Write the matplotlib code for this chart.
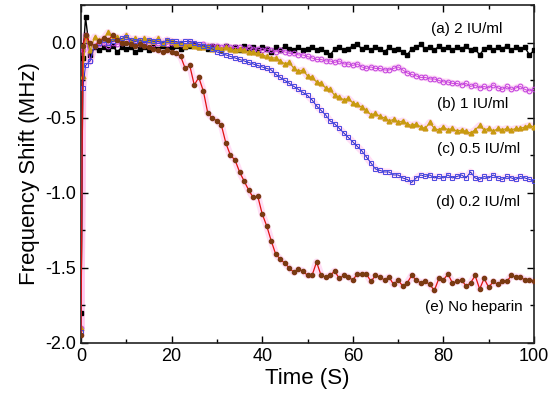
import matplotlib
matplotlib.use("Agg")
import matplotlib.pyplot as plt
from matplotlib.ticker import MultipleLocator

plt.rcParams['font.family'] = ['Liberation Sans', 'DejaVu Sans']

# time axis (s): initial point, one early sample, then 1 s steps
time_s = [0, 0.4] + list(range(1, 101))

# (a) 2 IU/ml
shift_a = [-1.8, -0.10,
    0.17, -0.08, -0.03, -0.05, -0.03, -0.04, -0.02, -0.06, -0.03, -0.04,
    -0.03, -0.06, -0.04, -0.03, -0.05, -0.03, -0.04, -0.02, -0.04, -0.03,
    -0.02, -0.04, -0.03, -0.02, -0.01, -0.03, -0.02, -0.04, -0.02, -0.03,
    -0.05, -0.02, -0.04, -0.03, -0.05, -0.02, -0.04, -0.03, -0.05, -0.03,
    -0.04, -0.06, -0.03, -0.05, -0.02, -0.04, -0.05, -0.03, -0.05, -0.04,
    -0.03, -0.05, -0.04, -0.06, -0.08, -0.04, -0.03, -0.05, -0.04, -0.02,
    -0.01, -0.04, -0.03, -0.05, -0.03, -0.04, -0.06, -0.03, -0.05, -0.04,
    -0.06, -0.08, -0.04, -0.03, -0.01, -0.04, -0.03, -0.05, -0.02, -0.04,
    -0.03, -0.05, -0.03, -0.04, -0.02, -0.05, -0.04, -0.08, -0.04, -0.03,
    -0.05, -0.03, -0.04, -0.02, -0.05, -0.03, -0.04, -0.03, -0.08, -0.05]

# (b) 1 IU/ml
shift_b = [-1.9, -0.05,
    0.05, -0.12, -0.02, -0.01, 0.00, -0.02, 0.00, -0.01, 0.00, 0.01,
    0.00, 0.00, -0.01, 0.00, 0.00, -0.01, 0.00, 0.00, -0.01, 0.00,
    -0.01, -0.01, -0.02, 0.00, -0.01, -0.02, -0.01, -0.02, -0.02, -0.02,
    -0.03, -0.02, -0.03, -0.03, -0.03, -0.04, -0.03, -0.04, -0.04, -0.05,
    -0.04, -0.05, -0.06, -0.05, -0.06, -0.07, -0.07, -0.08, -0.08, -0.09,
    -0.10, -0.11, -0.11, -0.12, -0.12, -0.13, -0.12, -0.14, -0.14, -0.15,
    -0.14, -0.16, -0.17, -0.16, -0.17, -0.17, -0.18, -0.18, -0.17, -0.16,
    -0.18, -0.20, -0.21, -0.22, -0.23, -0.23, -0.24, -0.24, -0.25, -0.26,
    -0.26, -0.27, -0.27, -0.28, -0.27, -0.29, -0.28, -0.30, -0.29, -0.30,
    -0.28, -0.30, -0.31, -0.29, -0.31, -0.30, -0.29, -0.31, -0.32, -0.31]

# (c) 0.5 IU/ml
shift_c = [-1.9, -0.22,
    0.05, -0.05, 0.04, 0.02, 0.03, 0.07, 0.03, 0.04, 0.02, 0.05,
    0.02, 0.03, 0.01, 0.03, 0.02, 0.01, 0.03, 0.00, 0.02, 0.01,
    -0.01, 0.00, -0.02, -0.01, -0.02, -0.03, -0.03, -0.02, -0.04, -0.03,
    -0.04, -0.03, -0.04, -0.05, -0.04, -0.05, -0.06, -0.06, -0.07, -0.08,
    -0.09, -0.10, -0.10, -0.12, -0.14, -0.13, -0.17, -0.19, -0.18, -0.22,
    -0.23, -0.26, -0.27, -0.30, -0.31, -0.35, -0.36, -0.38, -0.37, -0.40,
    -0.41, -0.43, -0.45, -0.48, -0.47, -0.49, -0.50, -0.52, -0.51, -0.53,
    -0.52, -0.54, -0.55, -0.54, -0.56, -0.57, -0.53, -0.57, -0.58, -0.56,
    -0.58, -0.57, -0.59, -0.58, -0.59, -0.60, -0.58, -0.55, -0.58, -0.57,
    -0.59, -0.57, -0.58, -0.57, -0.58, -0.57, -0.57, -0.56, -0.55, -0.56]

# (d) 0.2 IU/ml
shift_d = [-1.93, -0.30,
    -0.15, -0.12, -0.02, 0.00, 0.02, 0.00, 0.01, 0.02, 0.03, 0.04,
    0.02, 0.01, 0.02, 0.00, 0.02, 0.01, 0.01, 0.00, 0.02, 0.01,
    0.01, 0.00, 0.01, 0.01, 0.00, -0.01, -0.02, -0.03, -0.04, -0.06,
    -0.07, -0.08, -0.09, -0.10, -0.11, -0.12, -0.13, -0.14, -0.15, -0.16,
    -0.17, -0.18, -0.21, -0.23, -0.25, -0.27, -0.29, -0.31, -0.33, -0.35,
    -0.38, -0.42, -0.45, -0.48, -0.52, -0.54, -0.57, -0.60, -0.63, -0.66,
    -0.69, -0.72, -0.76, -0.80, -0.84, -0.85, -0.86, -0.86, -0.88, -0.88,
    -0.90, -0.91, -0.93, -0.90, -0.88, -0.89, -0.88, -0.90, -0.89, -0.90,
    -0.88, -0.90, -0.89, -0.88, -0.90, -0.86, -0.90, -0.91, -0.89, -0.90,
    -0.88, -0.90, -0.91, -0.89, -0.90, -0.91, -0.89, -0.90, -0.91, -0.92]

# (e) No heparin
shift_e = [-1.95, -0.02,
    0.05, 0.00, -0.02, 0.01, 0.03, 0.02, 0.05, 0.02, 0.00, 0.00,
    -0.01, -0.02, -0.01, -0.02, -0.03, -0.04, -0.05, -0.06, -0.05, -0.06,
    -0.07, -0.09, -0.17, -0.15, -0.28, -0.23, -0.32, -0.47, -0.50, -0.52,
    -0.55, -0.67, -0.75, -0.78, -0.86, -0.92, -0.98, -1.03, -1.02, -1.14,
    -1.22, -1.32, -1.41, -1.44, -1.47, -1.50, -1.53, -1.51, -1.52, -1.55,
    -1.55, -1.46, -1.55, -1.56, -1.55, -1.52, -1.57, -1.55, -1.56, -1.58,
    -1.54, -1.54, -1.54, -1.59, -1.55, -1.56, -1.58, -1.56, -1.61, -1.58,
    -1.62, -1.60, -1.55, -1.58, -1.60, -1.59, -1.61, -1.65, -1.57, -1.58,
    -1.54, -1.60, -1.59, -1.58, -1.62, -1.60, -1.55, -1.64, -1.57, -1.63,
    -1.59, -1.61, -1.59, -1.59, -1.55, -1.56, -1.56, -1.58, -1.58, -1.59]

labels = ["(a) 2 IU/ml", "(b) 1 IU/ml", "(c) 0.5 IU/ml", "(d) 0.2 IU/ml", "(e) No heparin"]
label_x = [93.0, 94.3, 97.0, 97.0, 97.6]
label_y = [0.09, -0.41, -0.71, -1.06, -1.76]

fig = plt.figure(figsize=(5.5, 3.99), dpi=100)
ax = fig.add_axes([0.1473, 0.1404, 0.8236, 0.8471])

glow = '#ffc8ef'
for s in [shift_b, shift_c, shift_d, shift_e]:
    ax.plot(time_s, s, color=glow, lw=5, alpha=0.6, zorder=1, solid_capstyle='round')

ax.plot(time_s, shift_a, color='black', lw=1.0, marker='s', ms=2.6,
        mfc='black', mec='black', zorder=3)
ax.plot(time_s, shift_b, color='#d048d8', lw=0.7, marker='o', ms=3.4,
        mfc='none', mec='#c040e0', mew=0.7, zorder=3)
ax.plot(time_s, shift_c, color='#c89a10', lw=0.9, marker='^', ms=3.4,
        mfc='#c89a10', mec='#c89a10', zorder=3)
ax.plot(time_s, shift_d, color='#2828c8', lw=0.7, marker='s', ms=3.2,
        mfc='none', mec='#4a4ae0', mew=0.7, zorder=3)
ax.plot(time_s, shift_e, color='#e01010', lw=0.9, marker='o', ms=3.0,
        mfc='#7a3a12', mec='#7a3a12', zorder=4)

for lab, xx, yy in zip(labels, label_x, label_y):
    ax.text(xx, yy, lab, ha='right', va='center', fontsize=11, zorder=5)

ax.set_xlim(0, 100)
ax.set_ylim(-2.0, 0.253)
ax.xaxis.set_minor_locator(MultipleLocator(10))
ax.yaxis.set_minor_locator(MultipleLocator(0.25))
ax.tick_params(which='both', direction='in', top=True, right=True, labelsize=13, width=1.0)
ax.tick_params(which='major', length=5)
ax.tick_params(which='minor', length=3)
ax.set_xticks([0, 20, 40, 60, 80, 100])
ax.set_xticklabels(['0', '20', '40', '60', '80', '100'])
ax.set_yticks([0.0, -0.5, -1.0, -1.5, -2.0])
ax.set_yticklabels(['0.0', '-0.5', '-1.0', '-1.5', '-2.0'])
for sp in ax.spines.values():
    sp.set_linewidth(1.2)
    sp.set_color('#222222')

ax.set_xlabel('Time (S)', fontsize=16, labelpad=2)
ax.set_ylabel('Frequency Shift (MHz)', fontsize=16, labelpad=4)

fig.savefig('out.png', dpi=100)
